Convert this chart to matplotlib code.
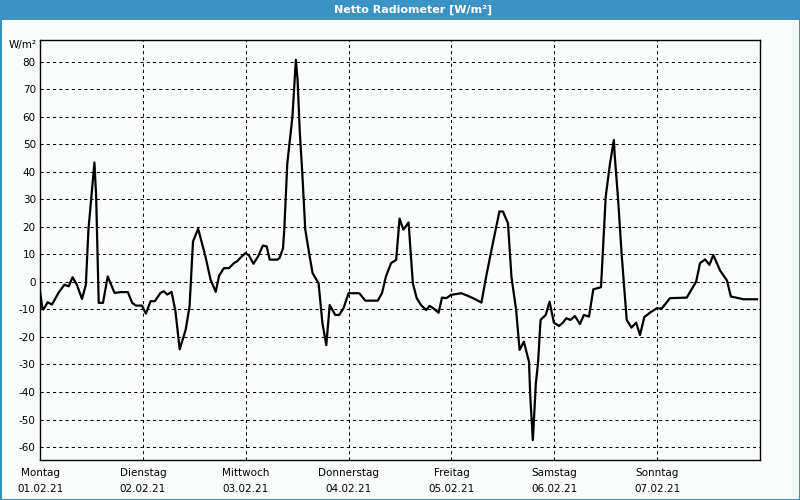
import matplotlib
matplotlib.use("Agg")
import matplotlib.pyplot as plt
from matplotlib.patches import Rectangle

# ---- data (hours since Monday 01.02.21 00:00, W/m²) ----
hours = [
    0.0, 0.6, 0.8, 1.8, 2.8, 4.3, 5.7, 6.7, 7.6, 8.6,
    9.8, 10.7, 11.3, 12.3, 12.7, 13.1, 13.7, 14.7, 15.8, 17.4,
    18.8, 20.5, 21.5, 22.4, 23.8, 24.7, 25.8, 26.8, 28.1, 28.9,
    29.7, 30.7, 31.6, 32.6, 34.0, 34.9, 35.7, 36.9, 38.6, 39.8,
    41.0, 41.8, 42.9, 44.1, 45.3, 46.0, 47.1, 48.0, 48.8, 49.8,
    50.9, 52.0, 52.9, 53.6, 55.4, 55.9, 56.7, 57.0, 57.7, 58.9,
    59.7, 60.1, 60.6, 61.2, 61.9, 62.8, 63.6, 65.0, 65.9, 66.8,
    67.6, 68.9, 69.8, 70.8, 72.0, 74.5, 75.9, 78.8, 79.8, 80.7,
    81.9, 83.1, 83.9, 84.8, 86.0, 87.0, 87.9, 88.9, 90.1, 90.9,
    91.8, 93.0, 93.8, 94.8, 95.9, 98.3, 100.2, 101.8, 103.0, 104.1,
    105.5, 107.2, 108.0, 109.2, 110.0, 111.1, 111.9, 112.9, 114.1, 114.4,
    115.0, 115.7, 116.2, 116.8, 118.0, 118.9, 119.9, 121.1, 122.0, 122.8,
    123.8, 124.8, 126.0, 126.9, 128.1, 129.1, 130.9, 132.0, 133.0, 133.9,
    134.1, 134.9, 135.7, 136.9, 138.0, 139.1, 140.0, 141.0, 142.3, 143.9,
    145.1, 147.0, 150.9, 153.1, 154.0, 155.2, 156.2, 157.1, 158.7, 160.3,
    161.2, 164.2, 167.3,
]
values = [
    -3.4, -10, -10, -7.4, -8.2, -4, -1, -1.6, 1.7, -1,
    -6.2, -1, 19, 36.5, 43.4, 31, -7.6, -7.6, 2, -4,
    -3.7, -3.7, -7.6, -8.6, -8.6, -11.5, -7, -7, -4, -3.4,
    -4.6, -3.6, -10.6, -24.5, -17.3, -8.8, 14.7, 19.3, 9.3, 0.8,
    -3.6, 2.3, 5, 5, 6.9, 7.5, 9.3, 10.5, 9.5, 6.6,
    9.3, 13.2, 12.9, 8.1, 8.1, 8.7, 12.2, 19, 43, 60,
    80.7, 73.5, 55, 39.5, 19, 10.4, 3.2, -0.5, -15, -23,
    -8.4, -12, -12, -9.6, -4.1, -4.1, -6.8, -6.8, -4.1, 1.9,
    6.8, 8, 23, 19, 21.6, -0.5, -5.9, -8.4, -10.2, -8.7,
    -9.6, -11.2, -5.7, -5.9, -4.7, -4.1, -5.3, -6.5, -7.5, 1.9,
    12.8, 25.6, 25.6, 21.3, 1.9, -10.2, -24.7, -21.7, -29, -41.7,
    -57.5, -36.8, -29.6, -13.8, -12, -7.2, -14.8, -16, -14.8, -13.2,
    -13.8, -12.4, -15.3, -12, -12.6, -2.7, -1.9, 31, 43, 51.6,
    46, 29.8, 10.4, -13.8, -16.6, -14.8, -19.3, -12.8, -11.2, -9.6,
    -9.6, -5.9, -5.7, 0.1, 6.8, 8.2, 6.2, 9.8, 4.1, 0.5,
    -5.3, -6.3, -6.3,
]
day_names = ["Montag", "Dienstag", "Mittwoch", "Donnerstag", "Freitag", "Samstag", "Sonntag"]
day_dates = ["01.02.21", "02.02.21", "03.02.21", "04.02.21", "05.02.21", "06.02.21", "07.02.21"]
y_ticks = list(range(-60, 81, 10))
title = "Netto Radiometer [W/m²]"
unit = "W/m²"

BLUE = "#3d92c4"
BG = "#fbfdfc"

plt.rcParams['font.family'] = ['DejaVu Sans']

fig = plt.figure(figsize=(8, 5), dpi=100, facecolor=BG)

# title bar and frame
fig.patches.append(Rectangle((0, 1 - 20 / 500), 1, 20 / 500, transform=fig.transFigure,
                             facecolor=BLUE, edgecolor="none", zorder=0))
fig.patches.append(Rectangle((0.5 / 800, 0.5 / 500), 799 / 800, 499 / 500, transform=fig.transFigure,
                             facecolor="none", edgecolor=BLUE, linewidth=1.5, zorder=1))
fig.text(413 / 800, 1 - 10 / 500, title, color="white", fontsize=8, fontweight="bold",
         ha="center", va="center")
fig.text(37 / 800, 1 - 45 / 500, unit, fontsize=7.5, ha="right", va="center")

ax = fig.add_axes([40 / 800, 40 / 500, 720 / 800, 420 / 500])
ax.set_facecolor(BG)
ax.plot(hours, values, color="black", linewidth=1.6, zorder=3)

ax.set_xlim(0, 168)
ax.set_ylim(-64.7, 87.9)
ax.set_xticks([24 * i for i in range(7)])
ax.set_xticklabels([f"{n}\n{d}" for n, d in zip(day_names, day_dates)], linespacing=1.7)
ax.set_yticks(y_ticks)
ax.set_yticklabels([str(v) for v in y_ticks])
ax.tick_params(axis="both", length=0, labelsize=7.5)
ax.tick_params(axis="x", pad=6)
ax.tick_params(axis="y", pad=3)
ax.grid(True, color="black", linestyle=(0, (3, 3)), linewidth=0.75)
ax.set_axisbelow(True)
for s in ax.spines.values():
    s.set_linewidth(1.0)
    s.set_color("black")

fig.savefig("out.png", dpi=100, facecolor=BG)
